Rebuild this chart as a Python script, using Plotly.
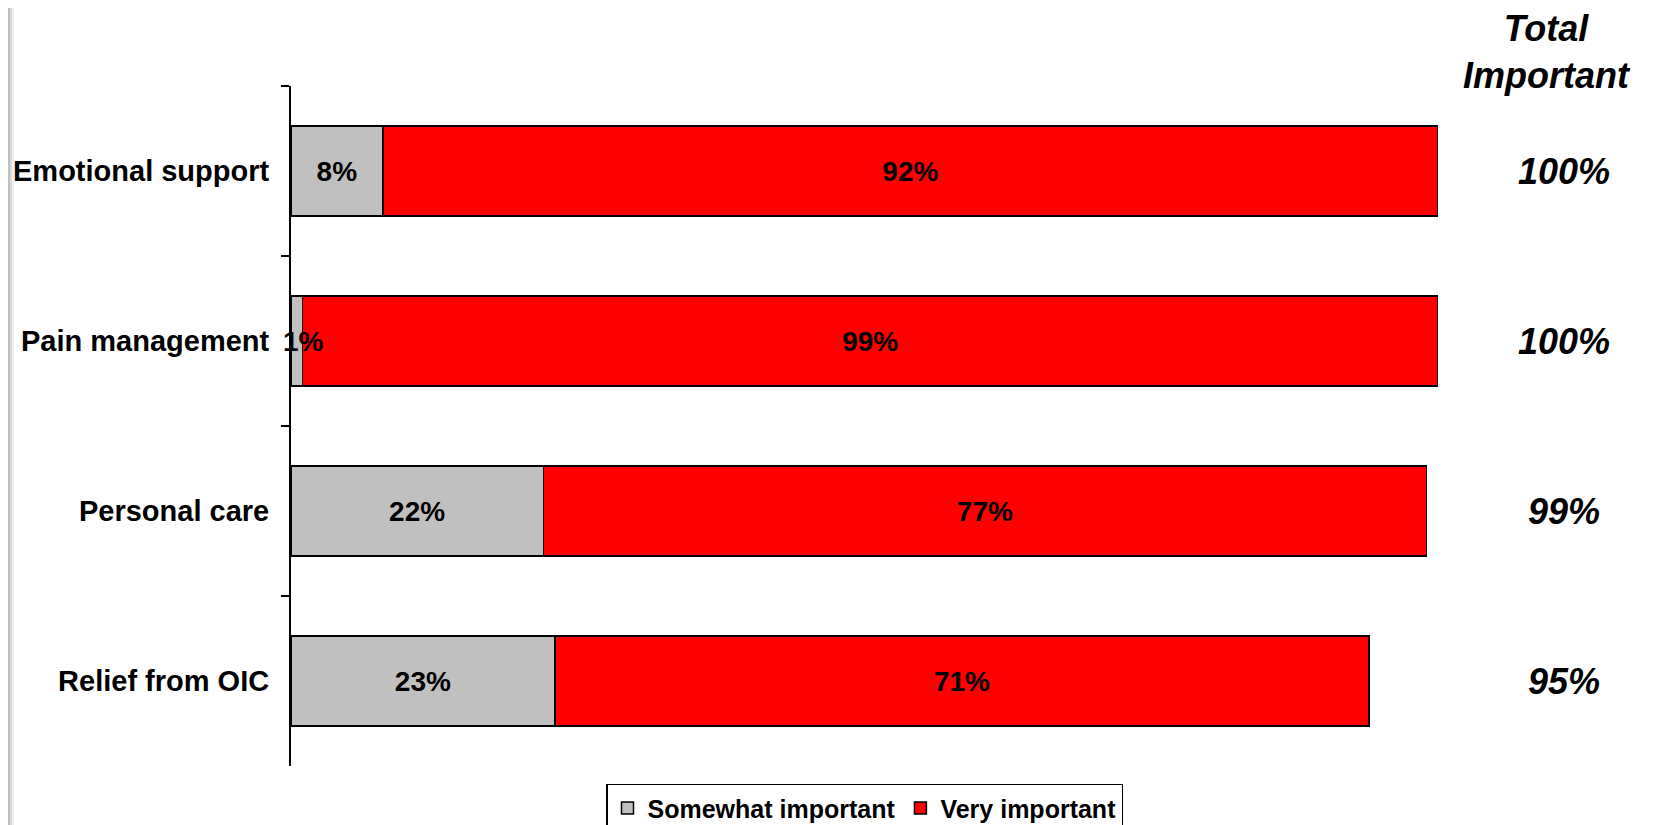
import plotly.graph_objects as go

categories = ['Emotional support', 'Pain management', 'Personal care', 'Relief from OIC']
somewhat = [8, 1, 22, 23]
very = [92, 99, 77, 71]
totals = ['100%', '100%', '99%', '95%']

FONT = 'Liberation Sans, Arial, sans-serif'
LABEL_FONT = dict(family=FONT, size=28, color='black', weight='bold')

# the page body has an 8px margin, so the figure is offset by that much
OFF = 8

fig = go.Figure()

fig.add_trace(go.Bar(
    y=categories, x=somewhat, orientation='h', name='Somewhat important',
    marker=dict(color='#C0C0C0', line=dict(color='black', width=1.5)),
    # tiny segments get their label as an annotation (drawn over the red bar)
    text=['' if v < 3 else f'{v}%' for v in somewhat], textposition='inside', textangle=0,
    constraintext='none', insidetextanchor='middle', cliponaxis=False,
    insidetextfont=LABEL_FONT,
))
fig.add_trace(go.Bar(
    y=categories, x=very, orientation='h', name='Very important',
    marker=dict(color='#FF0000', line=dict(color='black', width=1.5)),
    text=[f'{v}%' for v in very], textposition='inside', textangle=0,
    constraintext='none', insidetextanchor='middle', cliponaxis=False,
    insidetextfont=LABEL_FONT,
))

for cat, v in zip(categories, somewhat):
    if v < 3:
        fig.add_annotation(x=v / 2, xref='x', y=cat, yref='y', text=f'{v}%',
                           showarrow=False, font=LABEL_FONT,
                           xanchor='center', yanchor='middle', xshift=7)

# Total important column on the right
for cat, t in zip(categories, totals):
    fig.add_annotation(
        x=1.11, xref='paper', y=cat, yref='y', text=f'<i><b>{t}</b></i>',
        showarrow=False, font=dict(family=FONT, size=36, color='black'),
        xanchor='center', yanchor='middle',
    )
fig.add_annotation(
    x=1.095, xref='paper', y=1.05, yref='paper', text='<i><b>Total<br>Important</b></i>',
    showarrow=False, font=dict(family=FONT, size=36, color='black'),
    xanchor='center', yanchor='middle',
)

# grey edge at the left of the slide
for i, op in enumerate([0.35, 0.55, 0.7, 0.65, 0.5, 0.3, 0.12]):
    fig.add_shape(type='rect', xref='paper', yref='paper',
                  x0=-(283 + OFF - 2 * i) / 1147, x1=-(283 + OFF - 2 * i - 2) / 1147,
                  y0=-70 / 680, y1=1 + 90 / 680,
                  line=dict(width=0), fillcolor=f'rgba(128,128,128,{op})', layer='below')

fig.update_layout(
    barmode='stack',
    bargap=0.47,
    width=1653, height=825,
    margin=dict(l=291 - OFF, r=215 + OFF, t=86 - OFF, b=59 + OFF, autoexpand=False),
    paper_bgcolor='white',
    plot_bgcolor='white',
    font=dict(family=FONT, color='black'),
    showlegend=True,
    legend=dict(
        orientation='h', x=0.5, xanchor='center', y=-0.026, yanchor='top',
        bordercolor='black', borderwidth=1.5, bgcolor='white',
        font=dict(family=FONT, size=25, color='black', weight='bold'),
        traceorder='normal',
    ),
    xaxis=dict(range=[0, 100], visible=False, fixedrange=True),
    yaxis=dict(
        categoryorder='array', categoryarray=categories,
        range=[3.5, -0.5],
        showline=True, linecolor='black', linewidth=2,
        ticks='outside', ticklen=8, tickwidth=1.5, tickcolor='black',
        tickson='boundaries', ticklabelstandoff=14,
        tickfont=dict(family=FONT, size=29, color='black', weight='bold'),
        showgrid=False, zeroline=False,
    ),
)

fig.write_html('out.html')
